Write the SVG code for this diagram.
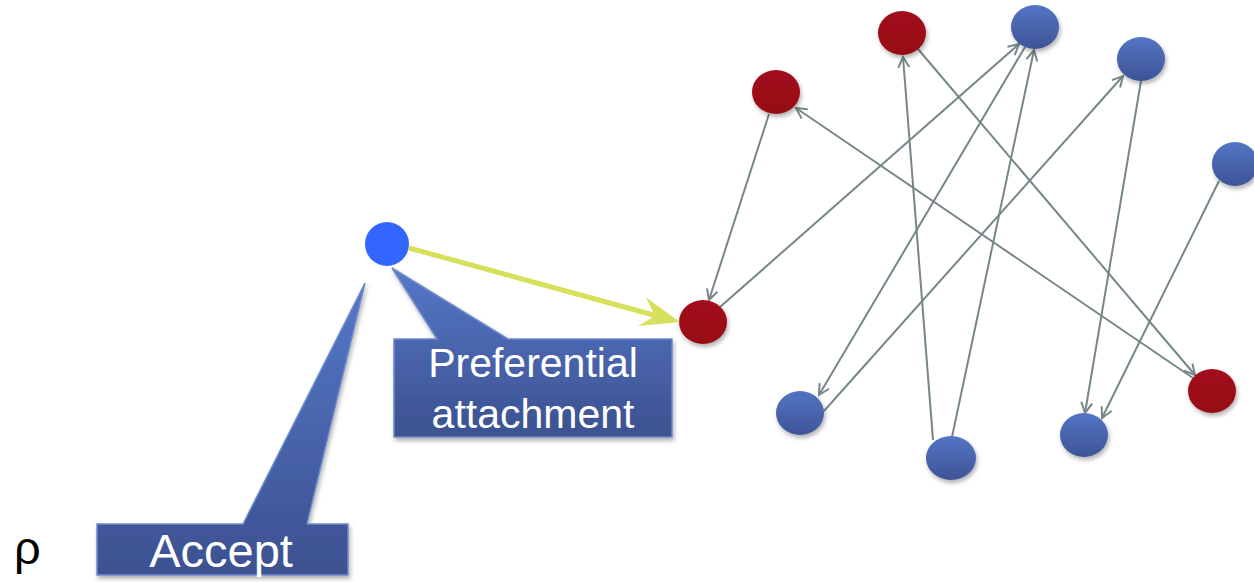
<svg xmlns="http://www.w3.org/2000/svg" width="1254" height="582" viewBox="0 0 1254 582">
  <defs>
    <linearGradient id="gBlue" x1="0" y1="0" x2="0" y2="1">
      <stop offset="0" stop-color="#5374c4"/>
      <stop offset="1" stop-color="#3e5496"/>
    </linearGradient>
    <linearGradient id="gRed" x1="0" y1="0" x2="0" y2="1">
      <stop offset="0" stop-color="#a2111b"/>
      <stop offset="1" stop-color="#960d17"/>
    </linearGradient>
    <linearGradient id="gCallout" x1="0" y1="0" x2="0" y2="1">
      <stop offset="0" stop-color="#5577c8"/>
      <stop offset="1" stop-color="#3c5190"/>
    </linearGradient>
    <filter id="shadow" x="-30%" y="-30%" width="160%" height="170%">
      <feDropShadow dx="1.5" dy="3" stdDeviation="2" flood-color="#000" flood-opacity="0.3"/>
    </filter>
    <marker id="arrow" markerUnits="userSpaceOnUse" markerWidth="16" markerHeight="16" refX="12" refY="7" orient="auto">
      <path d="M1.5,1.5 L12,7 L1.5,12.5" fill="none" stroke="#768789" stroke-width="2"/>
    </marker>
    <style>
      .edge { stroke: #768789; stroke-width: 2; fill: none; marker-end: url(#arrow); }
      .blue { fill: url(#gBlue); filter: url(#shadow); }
      .red { fill: url(#gRed); filter: url(#shadow); }
      .callout { fill: url(#gCallout); stroke: #6f8bcc; stroke-width: 1.5; filter: url(#shadow); }
      .ctext { font-family: "Liberation Sans", Arial, sans-serif; fill: #ffffff; text-anchor: middle; }
    </style>
  </defs>

  <!-- directed edges of the network -->
  <g id="connectors">
    <line class="edge" x1="769" y1="114" x2="709" y2="300"/>
    <line class="edge" x1="720" y1="307" x2="1019" y2="44"/>
    <line class="edge" x1="1193" y1="378" x2="796" y2="108"/>
    <line class="edge" x1="918" y1="49" x2="1195" y2="375"/>
    <line class="edge" x1="933" y1="440" x2="903" y2="57"/>
    <line class="edge" x1="952" y1="437" x2="1034" y2="50"/>
    <line class="edge" x1="1025" y1="47" x2="819" y2="395"/>
    <line class="edge" x1="824" y1="411" x2="1123" y2="76"/>
    <line class="edge" x1="1141" y1="81" x2="1085" y2="413"/>
    <line class="edge" x1="1219" y1="181" x2="1102" y2="418"/>
  </g>

  <!-- existing nodes -->
  <g id="nodeA"><ellipse class="red" cx="776" cy="92" rx="24" ry="22"/></g>
  <g id="nodeB"><ellipse class="red" cx="902" cy="33" rx="24" ry="22"/></g>
  <g id="nodeC"><ellipse class="blue" cx="1035" cy="27" rx="24" ry="22"/></g>
  <g id="nodeD"><ellipse class="blue" cx="1141" cy="59" rx="24" ry="22"/></g>
  <g id="nodeE"><ellipse class="blue" cx="1235" cy="164" rx="23" ry="22"/></g>
  <g id="nodeF"><ellipse class="red" cx="703" cy="322" rx="24" ry="22"/></g>
  <g id="nodeG"><ellipse class="blue" cx="800" cy="413" rx="24" ry="22"/></g>
  <g id="nodeH"><ellipse class="blue" cx="951" cy="458" rx="25" ry="22"/></g>
  <g id="nodeI"><ellipse class="blue" cx="1084" cy="435" rx="24" ry="22"/></g>
  <g id="nodeJ"><ellipse class="red" cx="1212" cy="391" rx="24" ry="22"/></g>

  <!-- new node and its preferential link -->
  <g id="newLink">
    <line x1="409" y1="248" x2="657" y2="316" stroke="#d7e05a" stroke-width="5"/>
    <polygon points="680,322 646,297.5 655,316 638,326" fill="#d7e05a"/>
  </g>
  <g id="newNode"><circle cx="387" cy="244" r="22" fill="#3366ff"/></g>

  <!-- callouts -->
  <g id="calloutPreferential">
    <path class="callout" d="M394,339 L437,339 L392,268 L508,339 L672,339 L672,437 L394,437 Z"/>
    <text class="ctext" x="533" y="377" font-size="41">Preferential</text>
    <text class="ctext" x="533" y="428" font-size="41">attachment</text>
  </g>
  <g id="calloutAccept">
    <path class="callout" d="M97,524 L243,524 L365,283 L307,524 L348,524 L348,575 L97,575 Z"/>
    <text class="ctext" x="221" y="567" font-size="47">Accept</text>
  </g>

  <g id="rho">
    <text x="14" y="564" font-family="Liberation Sans, Arial, sans-serif" font-size="47" fill="#000">ρ</text>
  </g>
</svg>
